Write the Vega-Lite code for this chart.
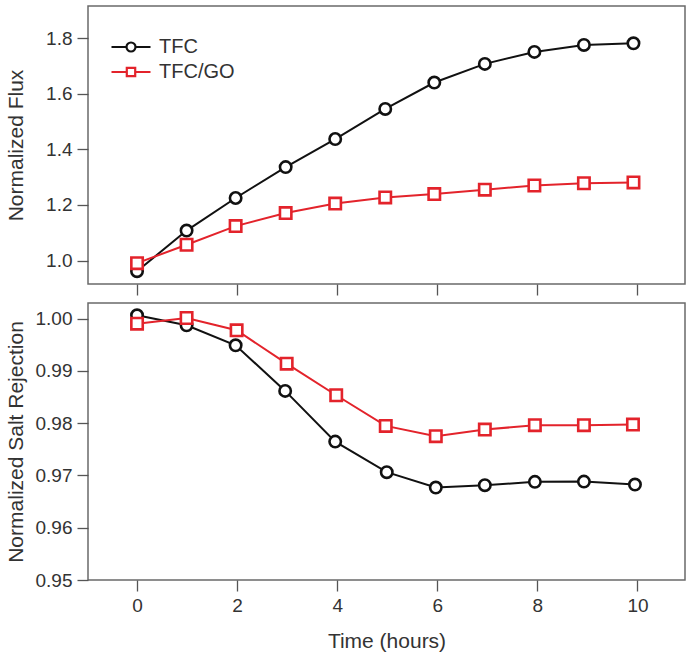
{
  "$schema": "https://vega.github.io/schema/vega-lite/v6.json",
  "padding": {"left": 4, "top": 5, "right": 5, "bottom": 5},
  "background": "white",
  "config": {
    "font": "Liberation Sans",
    "view": {"stroke": "#6a6a6a", "strokeWidth": 1.5},
    "axis": {
      "domain": false,
      "grid": false,
      "tickColor": "#555555",
      "tickWidth": 1.3,
      "tickSize": 11,
      "labelFont": "Liberation Sans",
      "labelFontSize": 19,
      "labelColor": "#333333",
      "labelPadding": 5,
      "titleFont": "Liberation Sans",
      "titleFontSize": 21,
      "titleFontWeight": "normal",
      "titleColor": "#333333"
    }
  },
  "datasets": {
    "flux": [
      {"series": "TFC", "time": 0, "value": 0.962},
      {"series": "TFC", "time": 0.99, "value": 1.108},
      {"series": "TFC", "time": 1.97, "value": 1.225},
      {"series": "TFC", "time": 2.97, "value": 1.336},
      {"series": "TFC", "time": 3.96, "value": 1.437},
      {"series": "TFC", "time": 4.96, "value": 1.545},
      {"series": "TFC", "time": 5.94, "value": 1.640},
      {"series": "TFC", "time": 6.95, "value": 1.707},
      {"series": "TFC", "time": 7.94, "value": 1.750},
      {"series": "TFC", "time": 8.93, "value": 1.775},
      {"series": "TFC", "time": 9.92, "value": 1.781},
      {"series": "TFC/GO", "time": 0, "value": 0.991},
      {"series": "TFC/GO", "time": 0.99, "value": 1.057},
      {"series": "TFC/GO", "time": 1.97, "value": 1.124},
      {"series": "TFC/GO", "time": 2.97, "value": 1.171},
      {"series": "TFC/GO", "time": 3.96, "value": 1.205},
      {"series": "TFC/GO", "time": 4.96, "value": 1.227},
      {"series": "TFC/GO", "time": 5.94, "value": 1.239},
      {"series": "TFC/GO", "time": 6.95, "value": 1.255},
      {"series": "TFC/GO", "time": 7.94, "value": 1.270},
      {"series": "TFC/GO", "time": 8.93, "value": 1.278},
      {"series": "TFC/GO", "time": 9.92, "value": 1.281}
    ],
    "rejection": [
      {"series": "TFC", "time": 0, "value": 1.00065},
      {"series": "TFC", "time": 0.99, "value": 0.99874},
      {"series": "TFC", "time": 1.97, "value": 0.99491},
      {"series": "TFC", "time": 2.96, "value": 0.98618},
      {"series": "TFC", "time": 3.96, "value": 0.97648},
      {"series": "TFC", "time": 4.99, "value": 0.97063},
      {"series": "TFC", "time": 5.97, "value": 0.96769},
      {"series": "TFC", "time": 6.95, "value": 0.96814},
      {"series": "TFC", "time": 7.95, "value": 0.96878},
      {"series": "TFC", "time": 8.93, "value": 0.96883},
      {"series": "TFC", "time": 9.95, "value": 0.96826},
      {"series": "TFC/GO", "time": 0, "value": 0.99904},
      {"series": "TFC/GO", "time": 0.99, "value": 1.00013},
      {"series": "TFC/GO", "time": 1.99, "value": 0.99778},
      {"series": "TFC/GO", "time": 2.99, "value": 0.9914},
      {"series": "TFC/GO", "time": 3.98, "value": 0.98535},
      {"series": "TFC/GO", "time": 4.97, "value": 0.97948},
      {"series": "TFC/GO", "time": 5.97, "value": 0.97751},
      {"series": "TFC/GO", "time": 6.95, "value": 0.97878},
      {"series": "TFC/GO", "time": 7.95, "value": 0.97962},
      {"series": "TFC/GO", "time": 8.93, "value": 0.97962},
      {"series": "TFC/GO", "time": 9.91, "value": 0.97973}
    ]
  },
  "spacing": 5,
  "resolve": {
    "scale": {"color": "independent", "shape": "independent"},
    "legend": {"color": "independent", "shape": "independent"}
  },
  "vconcat": [
    {
      "width": 597,
      "height": 278,
      "data": {"name": "flux"},
      "encoding": {
        "x": {
          "field": "time",
          "type": "quantitative",
          "scale": {"domain": [-0.98, 10.95], "nice": false, "zero": false},
          "axis": {"values": [0, 2, 4, 6, 8, 10], "labels": false, "title": null}
        },
        "y": {
          "field": "value",
          "type": "quantitative",
          "scale": {"domain": [0.916, 1.915], "nice": false, "zero": false},
          "axis": {
            "values": [1.0, 1.2, 1.4, 1.6, 1.8],
            "format": ".1f",
            "title": "Normalized Flux",
            "minExtent": 53,
            "maxExtent": 53,
            "titlePadding": 9
          }
        }
      },
      "layer": [
        {
          "mark": {"type": "line", "strokeWidth": 2},
          "encoding": {
            "color": {
              "field": "series",
              "type": "nominal",
              "scale": {"domain": ["TFC", "TFC/GO"], "range": ["#111111", "#e3232b"]},
              "legend": {
                "title": null,
                "orient": "none",
                "legendX": 33,
                "legendY": 31,
                "padding": 0,
                "labelFont": "Liberation Sans",
                "labelFontSize": 20,
                "labelColor": "#333333",
                "labelOffset": 18,
                "rowPadding": 5,
                "symbolSize": 100,
                "symbolStrokeWidth": 2.2,
                "symbolType": {"expr": "datum.value === 'TFC' ? 'M-3.9,0L-0.9,0M0.9,0L3.9,0M-0.9,0A0.9,0.9,0,1,1,0.9,0A0.9,0.9,0,1,1,-0.9,0Z' : 'M-3.9,0L-0.84,0M0.84,0L3.9,0M-0.84,-0.84L0.84,-0.84L0.84,0.84L-0.84,0.84Z'"},
                "encode": {"symbols": {"update": {"fill": {"value": "white"}}}}
              }
            }
          }
        },
        {
          "transform": [{"filter": "datum.series === 'TFC'"}],
          "mark": {"type": "point", "shape": "circle", "filled": false, "fill": "white", "stroke": "#111111", "size": 130, "strokeWidth": 2.6, "opacity": 1}
        },
        {
          "transform": [{"filter": "datum.series === 'TFC/GO'"}],
          "mark": {"type": "point", "shape": "square", "filled": false, "fill": "white", "stroke": "#e3232b", "size": 130, "strokeWidth": 2.6, "opacity": 1}
        }
      ]
    },
    {
      "width": 597,
      "height": 277,
      "data": {"name": "rejection"},
      "encoding": {
        "x": {
          "field": "time",
          "type": "quantitative",
          "scale": {"domain": [-0.98, 10.95], "nice": false, "zero": false},
          "axis": {"values": [0, 2, 4, 6, 8, 10], "format": "d", "title": "Time (hours)", "titlePadding": 15}
        },
        "y": {
          "field": "value",
          "type": "quantitative",
          "scale": {"domain": [0.95, 1.003], "nice": false, "zero": false},
          "axis": {
            "values": [0.95, 0.96, 0.97, 0.98, 0.99, 1.0],
            "format": ".2f",
            "title": "Normalized Salt Rejection",
            "minExtent": 53,
            "maxExtent": 53,
            "titlePadding": 9
          }
        },
        "color": {
          "field": "series",
          "type": "nominal",
          "scale": {"domain": ["TFC", "TFC/GO"], "range": ["#111111", "#e3232b"]},
          "legend": null
        }
      },
      "layer": [
        {"mark": {"type": "line", "strokeWidth": 2}},
        {
          "mark": {"type": "point", "filled": false, "fill": "white", "size": 130, "strokeWidth": 2.6, "opacity": 1},
          "encoding": {
            "shape": {
              "field": "series",
              "type": "nominal",
              "scale": {"domain": ["TFC", "TFC/GO"], "range": ["circle", "square"]},
              "legend": null
            }
          }
        }
      ]
    }
  ]
}
